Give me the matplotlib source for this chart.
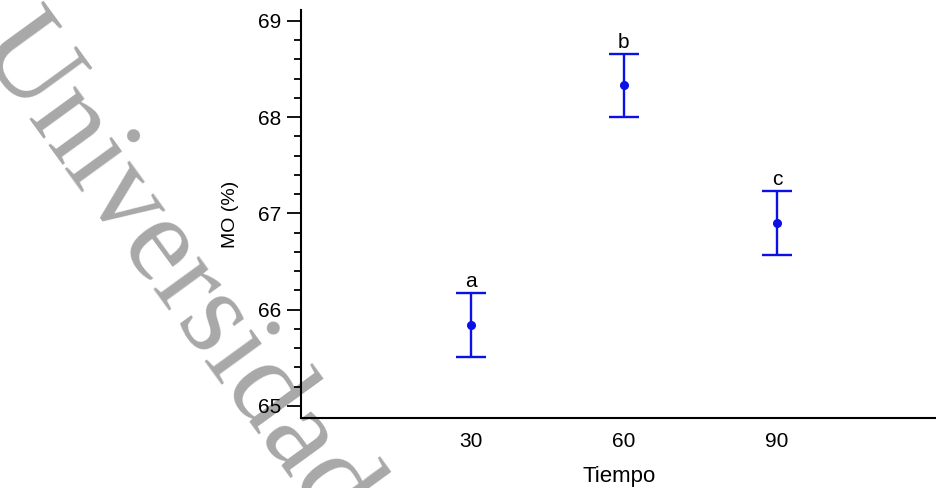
import matplotlib
matplotlib.use("Agg")
import matplotlib.pyplot as plt
from matplotlib.ticker import MultipleLocator

# Data
tiempo = [30, 60, 90]
mo_mean = [65.84, 68.33, 66.90]
mo_err = [0.33, 0.33, 0.33]
letters = ["a", "b", "c"]
tick_labels = ["30", "60", "90"]

plt.rcParams['font.family'] = ['Liberation Sans', 'DejaVu Sans']

fig = plt.figure(figsize=(9.37, 4.88), dpi=100)
ax = fig.add_axes([0.3212, 0.1434, 0.6788, 0.8361])

blue = '#0a10e6'
ax.errorbar(tiempo, mo_mean, yerr=mo_err, fmt='o', color=blue, ecolor=blue,
            markersize=5.5, elinewidth=1.7, capsize=11, capthick=1.7, zorder=3)
for x, m, e, l in zip(tiempo, mo_mean, mo_err, letters):
    ax.annotate(l, (x, m + e), xytext=(0, 1.5), textcoords='offset points',
                ha='center', va='bottom', fontsize=15)

ax.set_xlim(-3.33, 121.4)
ax.set_ylim(64.875, 69.114)
ax.set_xticks(tiempo)
ax.set_xticklabels(tick_labels)
ax.tick_params(axis='x', length=0, pad=10, labelsize=15)
ax.yaxis.set_major_locator(MultipleLocator(1))
ax.yaxis.set_minor_locator(MultipleLocator(0.2))
ax.tick_params(axis='y', which='major', length=10, width=1.3, labelsize=15, pad=4)
ax.tick_params(axis='y', which='minor', length=5, width=1.3)
for s in ['top', 'right']:
    ax.spines[s].set_visible(False)
for s in ['left', 'bottom']:
    ax.spines[s].set_linewidth(1.5)
ax.set_xlabel('Tiempo', fontsize=16, labelpad=11)
ax.set_ylabel('MO (%)', fontsize=14, labelpad=14)
ax.patch.set_alpha(0)

fig.text(-0.028, 0.902, 'Universidad', fontsize=88, family=['Liberation Serif'],
         color='#a8a8a8', rotation=-54, rotation_mode='anchor',
         ha='left', va='baseline', zorder=-1)

fig.savefig('out.png', dpi=100)
